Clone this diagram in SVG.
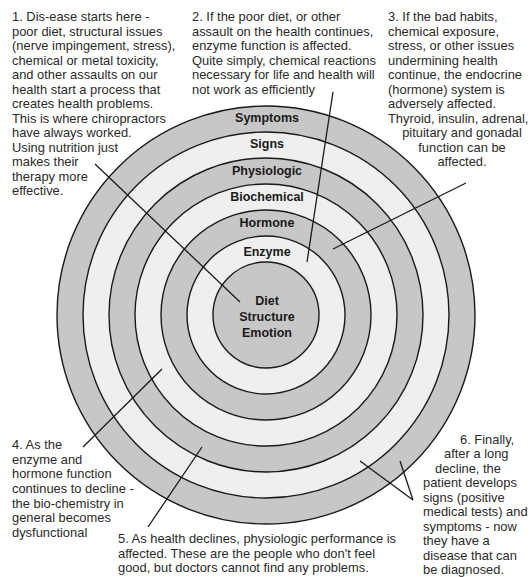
<svg xmlns="http://www.w3.org/2000/svg" width="532" height="577" viewBox="0 0 532 577">
<style>
.ring{stroke:#1a1a1a;stroke-width:1.4}
.dk{fill:#c7c7c7}
.lt{fill:#efefef}
.lbl{font-family:"Liberation Sans",Arial,sans-serif;font-size:12.5px;font-weight:bold;fill:#1a1a1a;text-anchor:middle}
.txt{font-family:"Liberation Sans",Arial,sans-serif;font-size:12.9px;fill:#2a2a2a}
.c{text-anchor:middle}
.conn line{stroke:#1a1a1a;stroke-width:1.3}
</style>
<rect width="532" height="577" fill="#ffffff"/>
<g id="rings">
<circle class="ring dk" cx="266" cy="315" r="209"/>
<circle class="ring lt" cx="266" cy="315" r="183"/>
<circle class="ring dk" cx="266" cy="315" r="157"/>
<circle class="ring lt" cx="266" cy="315" r="131"/>
<circle class="ring dk" cx="266" cy="315" r="105"/>
<circle class="ring lt" cx="266" cy="315" r="79"/>
<circle class="ring dk" cx="266" cy="315" r="53"/>
</g>
<g id="node-symptoms"><text class="lbl" x="267" y="122">Symptoms</text></g>
<g id="node-signs"><text class="lbl" x="267" y="148">Signs</text></g>
<g id="node-physiologic"><text class="lbl" x="267" y="175">Physiologic</text></g>
<g id="node-biochemical"><text class="lbl" x="267" y="201">Biochemical</text></g>
<g id="node-hormone"><text class="lbl" x="267" y="227">Hormone</text></g>
<g id="node-enzyme"><text class="lbl" x="267" y="256">Enzyme</text></g>
<g id="node-core">
<text class="lbl" x="267" y="305">Diet</text>
<text class="lbl" x="267" y="321">Structure</text>
<text class="lbl" x="267" y="337">Emotion</text>
</g>
<g id="connectors" class="conn">
<line x1="95" y1="164" x2="240" y2="302"/>
<line x1="333" y1="92" x2="307" y2="262"/>
<line x1="466" y1="183" x2="333" y2="249"/>
<line x1="83" y1="447" x2="162" y2="369"/>
<line x1="148" y1="527" x2="202" y2="447"/>
<line x1="360" y1="461" x2="413" y2="500"/>
<line x1="400" y1="461" x2="413" y2="500"/>
</g>
<g id="note1" class="txt">
<text x="12" y="21">1. Dis-ease starts here -</text>
<text x="12" y="35.5">poor diet, structural issues</text>
<text x="12" y="50">(nerve impingement, stress),</text>
<text x="12" y="64.5">chemical or metal toxicity,</text>
<text x="12" y="79">and other assaults on our</text>
<text x="12" y="93.5">health start a process that</text>
<text x="12" y="108">creates health problems.</text>
<text x="12" y="122.5">This is where chiropractors</text>
<text x="12" y="137">have always worked.</text>
<text x="12" y="151.5">Using nutrition just</text>
<text x="12" y="166">makes their</text>
<text x="12" y="180.5">therapy more</text>
<text x="12" y="195">effective.</text>
</g>
<g id="note2" class="txt">
<text x="192" y="21">2. If the poor diet, or other</text>
<text x="192" y="35.5">assault on the health  continues,</text>
<text x="192" y="50">enzyme function is affected.</text>
<text x="192" y="64.5">Quite simply, chemical reactions</text>
<text x="192" y="79">necessary for life and health will</text>
<text x="192" y="93.5">not work as efficiently</text>
</g>
<g id="note3" class="txt">
<text x="388" y="21">3. If the bad habits,</text>
<text x="388" y="35.5">chemical exposure,</text>
<text x="388" y="50">stress, or other issues</text>
<text x="388" y="64.5">undermining health</text>
<text x="388" y="79">continue, the endocrine</text>
<text x="388" y="93.5">(hormone) system is</text>
<text x="388" y="108">adversely affected.</text>
<text x="388" y="122.5">Thyroid, insulin, adrenal,</text>
<text class="c" x="462" y="137">pituitary and gonadal</text>
<text class="c" x="462" y="151.5">function can be</text>
<text class="c" x="462" y="166">affected.</text>
</g>
<g id="note4" class="txt">
<text x="12" y="449">4. As the</text>
<text x="12" y="463.5">enzyme and</text>
<text x="12" y="478">hormone function</text>
<text x="12" y="493">continues to decline -</text>
<text x="12" y="507.5">the bio-chemistry in</text>
<text x="12" y="522">general becomes</text>
<text x="12" y="537">dysfunctional</text>
</g>
<g id="note5" class="txt">
<text x="118" y="543">5. As health declines, physiologic performance is</text>
<text x="118" y="557.5">affected.  These are the people who don't feel</text>
<text x="118" y="572">good, but doctors cannot find any problems.</text>
</g>
<g id="note6" class="txt">
<text x="460" y="444">6. Finally,</text>
<text x="444" y="458">after a long</text>
<text x="435" y="472.5">decline, the</text>
<text x="423" y="487">patient develops</text>
<text x="423" y="501.5">signs (positive</text>
<text x="423" y="516">medical tests) and</text>
<text x="423" y="530.5">symptoms - now</text>
<text x="423" y="545">they have a</text>
<text x="423" y="559.5">disease that can</text>
<text x="423" y="574">be diagnosed.</text>
</g>
</svg>
